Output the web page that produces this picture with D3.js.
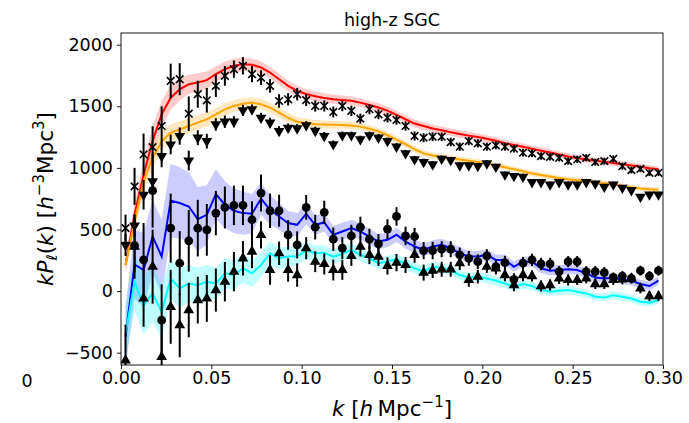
<!DOCTYPE html>
<html>
<head>
<meta charset="utf-8">
<script src="https://cdn.jsdelivr.net/npm/d3@7"></script>
<style>
  html, body { margin: 0; padding: 0; background: #fff; }
  svg text { font-family: "DejaVu Sans", sans-serif; fill: #000; }
</style>
</head>
<body>
<svg id="chart" width="689" height="423"></svg>
<script>
// Wavenumber bin centres, h/Mpc
const k = [0.0025,0.0075,0.0125,0.0175,0.0225,0.0275,0.0325,0.0375,0.0425,0.0475,
           0.0525,0.0575,0.0625,0.0675,0.0725,0.0775,0.0825,0.0875,0.0925,0.0975,
           0.1025,0.1075,0.1125,0.1175,0.1225,0.1275,0.1325,0.1375,0.1425,0.1475,
           0.1525,0.1575,0.1625,0.1675,0.1725,0.1775,0.1825,0.1875,0.1925,0.1975,
           0.2025,0.2075,0.2125,0.2175,0.2225,0.2275,0.2325,0.2375,0.2425,0.2475,
           0.2525,0.2575,0.2625,0.2675,0.2725,0.2775,0.2825,0.2875,0.2925,0.2975];

// Monopole, pre-reconstruction (x markers)
const mono = [511,850,1109,1168,1340,1706,1720,1440,1598,1549,1666,1747,1801,1829,1761,1733,1666,1543,1557,1598,
              1550,1503,1503,1454,1503,1463,1400,1476,1435,1408,1389,1340,1259,1245,1253,1253,1210,1172,1218,1199,
              1172,1183,1172,1156,1123,1118,1096,1090,1082,1055,1069,1082,1047,1055,1074,1014,982,992,960,960];
const monoErr = [110,150,170,170,160,140,130,140,110,100,90,80,70,70,65,60,55,55,50,50,
                 48,46,45,44,43,42,41,40,40,39,38,38,37,36,36,35,35,34,34,33,
                 33,32,32,31,31,31,30,30,30,29,29,29,28,28,28,28,27,27,27,27];
// Monopole, post-reconstruction (downward triangles)
const monoRec = [375,532,782,891,1095,1190,1258,1060,1245,1217,1353,1375,1375,1467,1475,1407,1367,1299,1326,1320,
                 1345,1300,1259,1191,1264,1264,1232,1264,1245,1218,1172,1118,1069,1047,1028,1074,1063,1020,1020,1014,
                 1036,1009,946,933,927,884,884,865,884,865,865,884,873,846,865,838,819,765,784,784];
const monoRecErr = [90,90,120,110,90,80,70,80,60,60,50,50,45,45,40,40,40,40,35,35,
                    35,34,33,32,32,31,30,30,30,29,29,28,28,28,27,27,27,26,26,26,
                    26,25,25,25,25,24,24,24,24,24,23,23,23,23,23,23,22,22,22,22];
// Quadrupole, pre-reconstruction (circles)
const quad = [null,370,253,815,-236,511,226,408,511,497,633,679,696,696,579,796,652,652,456,375,
              680,519,639,421,348,448,519,421,383,503,606,448,443,329,329,340,340,294,266,239,
              285,198,231,95,226,253,220,220,158,239,239,158,158,150,111,122,103,166,122,166];
const quadErr = [300,220,300,300,290,280,260,250,230,210,180,170,160,160,150,150,140,130,120,110,
                 100,100,95,95,90,90,85,85,80,80,75,75,70,70,70,65,65,60,60,60,
                 55,55,55,50,50,50,50,50,45,45,45,45,45,45,40,40,40,40,40,40];
// Quadrupole, post-reconstruction (upward triangles)
const quadRec = [-562,360,-60,198,-535,-128,-277,-155,-73,-60,8,76,158,266,321,456,171,307,171,130,
                 348,239,220,171,171,285,361,294,280,204,231,212,294,150,166,177,177,226,90,117,
                 198,185,130,49,130,122,41,49,103,90,90,103,57,57,90,95,103,22,-41,-41];
const quadRecErr = [290,260,230,300,300,300,260,220,190,190,175,160,160,140,135,110,120,95,95,95,
                    90,85,85,85,80,80,80,75,75,70,70,65,65,65,60,60,60,55,55,55,
                    50,50,50,50,50,45,45,45,45,45,40,40,40,40,40,40,40,40,40,40];

// Mock means with their scatter
const monoModel = [212,620,945,1217,1435,1570,1638,1679,1693,1712,1761,1801,1829,1842,1837,1815,1774,1720,1666,1625,
                   1600,1582,1568,1558,1552,1545,1530,1510,1490,1465,1430,1395,1360,1340,1320,1305,1290,1275,1262,1250,
                   1236,1220,1200,1186,1172,1155,1140,1125,1108,1092,1080,1068,1058,1050,1040,1030,1020,1010,998,990];
const monoBand = [60,100,120,120,110,100,90,80,75,70,65,60,58,55,52,50,48,46,44,42,
                  40,40,38,38,36,36,35,35,34,34,33,33,32,32,31,31,30,30,30,29,
                  29,28,28,28,27,27,27,26,26,26,25,25,25,25,24,24,24,24,23,23];
const monoRecModel = [212,565,891,1081,1217,1285,1312,1340,1367,1394,1435,1475,1502,1521,1530,1516,1489,1448,1407,1375,
                      1365,1355,1352,1350,1348,1345,1335,1318,1295,1265,1230,1192,1150,1118,1100,1088,1078,1068,1058,1048,
                      1035,1020,1005,990,972,955,942,930,918,908,900,892,884,875,865,855,843,833,826,822];
const monoRecBand = [50,80,90,90,80,70,65,60,58,55,52,50,48,46,45,44,42,40,38,36,
                     35,34,33,32,31,30,30,29,28,28,27,27,26,26,25,25,25,24,24,24,
                     23,23,23,22,22,22,21,21,21,21,20,20,20,20,20,19,19,19,19,19];
const quadModel = [-372,217,171,443,280,734,715,687,584,619,788,701,652,633,628,750,660,606,552,538,
                   628,538,557,457,484,511,484,443,402,416,457,402,362,334,362,375,348,307,280,280,
                   294,253,253,198,239,239,185,166,171,177,171,144,111,103,111,90,84,57,41,84];
const quadBand = [250,280,300,300,300,300,290,280,260,240,200,190,180,175,160,130,120,110,100,95,
                  85,80,75,72,70,68,66,64,62,60,58,56,54,52,50,50,48,48,46,46,
                  45,44,43,42,42,41,40,40,40,39,39,38,38,37,37,37,36,36,36,35];
const quadRecModel = [-350,76,-114,-19,-168,103,22,62,49,76,62,144,130,185,144,212,307,266,280,280,
                      330,307,312,280,302,335,294,266,226,239,258,220,185,158,198,185,171,130,111,117,
                      103,84,62,35,57,41,8,-5,3,8,-5,-19,-46,-52,-33,-46,-60,-87,-95,-73];
const quadRecBand = [220,230,240,230,220,170,160,150,140,135,130,125,120,115,110,100,95,90,80,75,
                     70,65,60,58,56,54,52,50,48,46,45,44,43,42,41,40,40,39,38,38,
                     37,36,36,35,35,34,34,33,33,33,32,32,31,31,31,30,30,30,30,30];

const xTicks = [0.00, 0.05, 0.10, 0.15, 0.20, 0.25, 0.30];
const yTicks = [-500, 0, 500, 1000, 1500, 2000];

const svg = d3.select("#chart");
const margin = { left: 121, right: 26, top: 33, bottom: 58 };
const W = 689, H = 423;
const x = d3.scaleLinear().domain([0, 0.30]).range([margin.left, W - margin.right]);
const y = d3.scaleLinear().domain([-600, 2095]).range([H - margin.bottom, margin.top]);

svg.append("defs").append("clipPath").attr("id", "plotclip")
  .append("rect")
  .attr("x", x.range()[0]).attr("y", y.range()[1])
  .attr("width", x.range()[1] - x.range()[0])
  .attr("height", y.range()[0] - y.range()[1]);

const plot = svg.append("g").attr("clip-path", "url(#plotclip)");

const models = [
  { mean: monoModel, band: monoBand, color: "#ff0000", fill: "rgba(255,0,0,0.2)" },
  { mean: monoRecModel, band: monoRecBand, color: "#ffa500", fill: "rgba(255,165,0,0.25)" },
  { mean: quadModel, band: quadBand, color: "#0000ff", fill: "rgba(0,0,255,0.2)" },
  { mean: quadRecModel, band: quadRecBand, color: "#00ffff", fill: "rgba(0,255,255,0.25)" }
];

// Shaded scatter bands
models.forEach(m => {
  const area = d3.area()
    .x((d, i) => x(k[i]))
    .y0((d, i) => y(m.mean[i] - m.band[i]))
    .y1((d, i) => y(m.mean[i] + m.band[i]));
  plot.append("path").datum(m.mean).attr("d", area).attr("fill", m.fill).attr("stroke", "none");
});
// Mean curves
models.forEach(m => {
  const line = d3.line().x((d, i) => x(k[i])).y(d => y(d));
  plot.append("path").datum(m.mean).attr("d", line)
    .attr("fill", "none").attr("stroke", m.color).attr("stroke-width", 2);
});

// Measurements with error bars
const sets = [
  { v: mono, e: monoErr, marker: "x" },
  { v: monoRec, e: monoRecErr, marker: "v" },
  { v: quad, e: quadErr, marker: "o" },
  { v: quadRec, e: quadRecErr, marker: "^" }
];
const tri = d3.symbol().type(d3.symbolTriangle).size(50);
sets.forEach(s => {
  const pts = k.map((kk, i) => ({ k: kk, v: s.v[i], e: s.e[i] })).filter(d => d.v !== null);
  const g = plot.append("g");
  g.selectAll("line.err").data(pts).join("line")
    .attr("x1", d => x(d.k)).attr("x2", d => x(d.k))
    .attr("y1", d => y(d.v - d.e)).attr("y2", d => y(d.v + d.e))
    .attr("stroke", "#000").attr("stroke-width", 2);
  if (s.marker === "o") {
    g.selectAll("circle").data(pts).join("circle")
      .attr("cx", d => x(d.k)).attr("cy", d => y(d.v)).attr("r", 4.4).attr("fill", "#000");
  } else if (s.marker === "x") {
    const r = 3.8;
    g.selectAll("path").data(pts).join("path")
      .attr("d", d => {
        const cx = x(d.k), cy = y(d.v);
        return `M${cx - r},${cy - r}L${cx + r},${cy + r}M${cx - r},${cy + r}L${cx + r},${cy - r}`;
      })
      .attr("stroke", "#000").attr("stroke-width", 1.6).attr("fill", "none");
  } else {
    const rot = s.marker === "v" ? 180 : 0;
    g.selectAll("path").data(pts).join("path")
      .attr("d", tri)
      .attr("transform", d => `translate(${x(d.k)},${y(d.v)}) rotate(${rot})`)
      .attr("fill", "#000");
  }
});

// Frame
svg.append("rect")
  .attr("x", x.range()[0]).attr("y", y.range()[1])
  .attr("width", x.range()[1] - x.range()[0])
  .attr("height", y.range()[0] - y.range()[1])
  .attr("fill", "none").attr("stroke", "#000").attr("stroke-width", 0.9);

// Axes
const tickFont = 17.5;
const fmtY = d => d < 0 ? "\u2212" + Math.abs(d) : String(d);
const xAxis = svg.append("g").attr("transform", `translate(0,${y.range()[0]})`)
  .call(d3.axisBottom(x).tickValues(xTicks).tickFormat(d3.format(".2f")).tickSize(4).tickPadding(3));
const yAxis = svg.append("g").attr("transform", `translate(${x.range()[0]},0)`)
  .call(d3.axisLeft(y).tickValues(yTicks).tickFormat(fmtY).tickSize(4).tickPadding(4));
[xAxis, yAxis].forEach(a => {
  a.select(".domain").remove();
  a.selectAll("line").attr("stroke", "#000").attr("stroke-width", 0.9);
  a.selectAll("text").attr("font-size", tickFont).attr("font-family", "DejaVu Sans").attr("fill", "#000");
});

// Stray origin label at the lower left
svg.append("text").attr("x", 27).attr("y", 387).attr("text-anchor", "middle")
  .attr("font-size", tickFont).text("0");

// Title
svg.append("text").attr("x", (x.range()[0] + x.range()[1]) / 2).attr("y", 26)
  .attr("text-anchor", "middle").attr("font-size", 17.5).text("high-z SGC");

// x-axis label: k [h Mpc^-1]
const labFont = 21.5, supFont = 15;
const xl = svg.append("text").attr("x", (x.range()[0] + x.range()[1]) / 2).attr("y", 416)
  .attr("text-anchor", "middle").attr("font-size", labFont);
xl.append("tspan").attr("font-style", "italic").text("k");
xl.append("tspan").text(" [");
xl.append("tspan").attr("font-style", "italic").text("h");
xl.append("tspan").text("\u2009Mpc");
xl.append("tspan").attr("font-size", supFont).attr("dy", -9).text("\u22121");
xl.append("tspan").attr("dy", 9).text("]");

// y-axis label: kP_l(k) [h^-3 Mpc^3]
const yl = svg.append("text")
  .attr("transform", `translate(53,${(y.range()[0] + y.range()[1]) / 2}) rotate(-90)`)
  .attr("text-anchor", "middle").attr("font-size", labFont);
yl.append("tspan").attr("font-style", "italic").text("kP");
yl.append("tspan").attr("font-style", "italic").attr("font-size", supFont).attr("dy", 4).text("\u2113");
yl.append("tspan").attr("dy", -4).text("(");
yl.append("tspan").attr("font-style", "italic").text("k");
yl.append("tspan").text(") [");
yl.append("tspan").attr("font-style", "italic").text("h");
yl.append("tspan").attr("font-size", supFont).attr("dy", -9).text("\u22123");
yl.append("tspan").attr("dy", 9).text("Mpc");
yl.append("tspan").attr("font-size", supFont).attr("dy", -9).text("3");
yl.append("tspan").attr("dy", 9).text("]");
</script>
</body>
</html>
